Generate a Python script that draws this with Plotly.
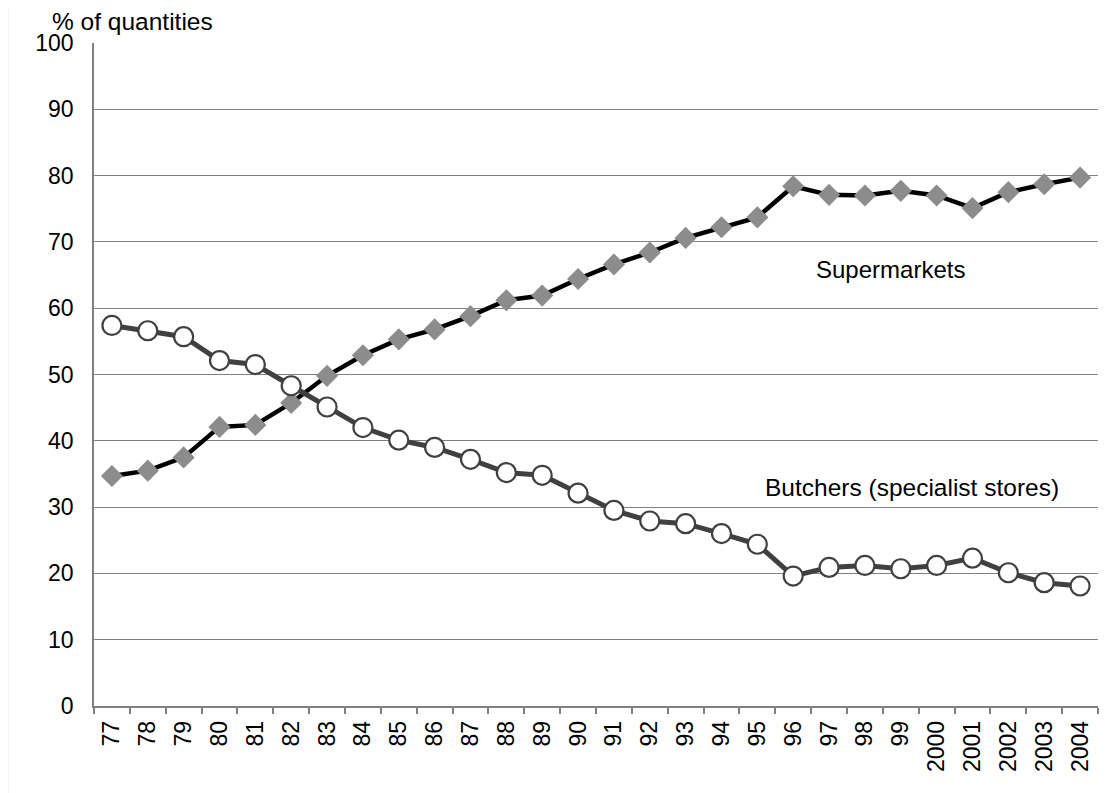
import plotly.graph_objects as go

years = ["77", "78", "79", "80", "81", "82", "83", "84", "85", "86", "87", "88", "89",
         "90", "91", "92", "93", "94", "95", "96", "97", "98", "99",
         "2000", "2001", "2002", "2003", "2004"]

supermarkets = [34.7, 35.5, 37.5, 42.1, 42.4, 45.7, 49.8, 52.9, 55.3, 56.8, 58.8, 61.2, 61.9,
                64.4, 66.6, 68.4, 70.6, 72.2, 73.7, 78.4, 77.1, 77.0, 77.7,
                77.0, 75.1, 77.5, 78.7, 79.7]

butchers = [57.4, 56.6, 55.7, 52.1, 51.5, 48.3, 45.1, 42.0, 40.1, 39.0, 37.2, 35.2, 34.8,
            32.1, 29.5, 27.9, 27.5, 26.0, 24.4, 19.6, 20.9, 21.2, 20.7,
            21.2, 22.3, 20.1, 18.6, 18.1]

y_ticks = [0, 10, 20, 30, 40, 50, 60, 70, 80, 90, 100]
grid_vals = [10, 20, 30, 40, 50, 60, 70, 80, 90]

FONT = "Liberation Sans, Arial, sans-serif"

fig = go.Figure()

# invisible trace to activate the grid axis (y2)
fig.add_trace(go.Scatter(x=[years[0]], y=[None], yaxis="y2", showlegend=False,
                         hoverinfo="skip", mode="markers", marker=dict(opacity=0)))

fig.add_trace(go.Scatter(
    x=years, y=supermarkets, mode="lines+markers", name="Supermarkets",
    line=dict(color="#000000", width=4.5),
    marker=dict(symbol="diamond", size=17, color="#8c8c8c", line=dict(width=0)),
))

fig.add_trace(go.Scatter(
    x=years, y=butchers, mode="lines+markers", name="Butchers (specialist stores)",
    line=dict(color="#404040", width=5),
    marker=dict(symbol="circle", size=19, color="#ffffff", line=dict(color="#404040", width=2.2)),
))

fig.add_annotation(text="Supermarkets", xref="paper", yref="y", x=0.793, y=65.8,
                   showarrow=False, font=dict(family=FONT, size=24, color="#000"),
                   xanchor="center", yanchor="middle")
fig.add_annotation(text="Butchers (specialist stores)", xref="paper", yref="y", x=0.815, y=33.0,
                   showarrow=False, font=dict(family=FONT, size=24.5, color="#000"),
                   xanchor="center", yanchor="middle")
fig.add_annotation(text="% of quantities", xref="paper", yref="paper", x=-0.043, y=1.032,
                   showarrow=False, font=dict(family=FONT, size=24.5, color="#000"),
                   xanchor="left", yanchor="middle", borderpad=0)

# faint frame around the whole chart
fig.add_shape(type="rect", xref="paper", yref="paper",
              x0=(8 - 94) / 1004, x1=(1117 - 94) / 1004,
              y0=(706 - 800) / 663, y1=(706 - 3) / 663,
              line=dict(color="#e6e6e6", width=1), fillcolor="rgba(0,0,0,0)", layer="below")

fig.update_layout(
    width=1110, height=785,
    margin=dict(l=86, r=20, t=35, b=87),
    paper_bgcolor="white", plot_bgcolor="white",
    showlegend=False,
    font=dict(family=FONT, color="#000"),
    xaxis=dict(
        type="category", showgrid=False, showline=True, linecolor="#808080", linewidth=1.5,
        ticks="outside", tickson="boundaries", ticklen=6, tickcolor="#808080", tickwidth=1.5,
        tickangle=-90, tickfont=dict(family=FONT, size=23, color="#000"),
        ticklabelstandoff=4,
        range=[-0.5, len(years) - 0.5], zeroline=False,
    ),
    yaxis=dict(
        range=[0, 100], tickvals=y_ticks, showgrid=False, showline=True,
        linecolor="#808080", linewidth=1.5, ticks="", zeroline=False,
        tickfont=dict(family=FONT, size=23, color="#000"), ticklabelstandoff=14,
    ),
    yaxis2=dict(
        range=[0, 100], tickvals=grid_vals, overlaying="y", showgrid=True,
        gridcolor="#808080", gridwidth=1, showticklabels=False, ticks="", zeroline=False,
        showline=False,
    ),
)

fig.write_html("out.html")
